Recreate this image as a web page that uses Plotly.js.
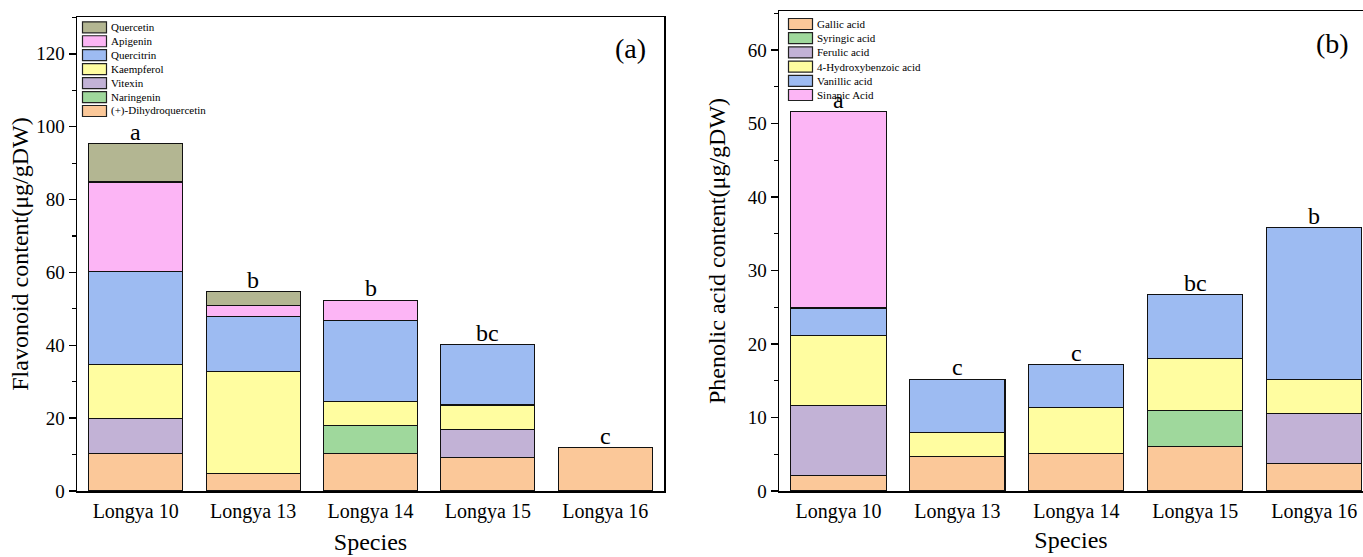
<!DOCTYPE html>
<html>
<head>
<meta charset="utf-8">
<script src="https://cdn.plot.ly/plotly-3.0.1.min.js"></script>
<style>html,body{margin:0;padding:0;overflow:hidden;background:#fff;}#chart{width:1363px;height:557px;}</style>
</head>
<body>
<div id="chart"></div>
<script>
// ---- data ----
const species = ['Longya 10', 'Longya 13', 'Longya 14', 'Longya 15', 'Longya 16'];

// Panel (a) flavonoids (µg/gDW), stacked bottom -> top
const flavNames = ['(+)-Dihydroquercetin', 'Naringenin', 'Vitexin', 'Kaempferol', 'Quercitrin', 'Apigenin', 'Quercetin'];
const dihydroquercetin = [10.2, 4.9, 10.4, 9.3, 11.9];
const naringenin = [null, null, 7.6, null, null];
const vitexin = [9.8, null, null, 7.5, null];
const kaempferol = [14.6, 27.8, 6.5, 6.8, null];
const quercitrin = [25.7, 15.3, 22.4, 16.5, null];
const apigenin = [24.5, 2.9, 5.4, null, null];
const quercetin = [10.5, 3.8, null, null, null];
const flavLetters = ['a', 'b', 'b', 'bc', 'c'];

// Panel (b) phenolic acids (µg/gDW), stacked bottom -> top
const phenNames = ['Gallic acid', 'Syringic acid', 'Ferulic acid', '4-Hydroxybenzoic acid', 'Vanillic acid', 'Sinapic Acid'];
const gallic = [2.1, 4.7, 5.1, 6.0, 3.8];
const syringic = [null, null, null, 5.0, null];
const ferulic = [9.5, null, null, null, 6.8];
const hydroxybenzoic = [9.5, 3.2, 6.2, 7.0, 4.6];
const vanillic = [3.8, 7.3, 5.9, 8.7, 20.6];
const sinapic = [26.7, null, null, null, null];
const phenLetters = ['a', 'c', 'c', 'bc', 'b'];

const yTicksA = [0, 20, 40, 60, 80, 100, 120];
const yTicksB = [0, 10, 20, 30, 40, 50, 60];

// ---- styling ----
const W = 1363, H = 557;
const FONT = '"Liberation Serif", "Times New Roman", Times, serif';
const flavColors = ['#FBC899', '#9FD89C', '#C2B2D6', '#FFFDA0', '#9DBBF2', '#FCB5F5', '#B3B692'];
const phenColors = ['#FBC899', '#9FD89C', '#C2B2D6', '#FFFDA0', '#9DBBF2', '#FCB5F5'];

const flavSeries = [dihydroquercetin, naringenin, vitexin, kaempferol, quercitrin, apigenin, quercetin];
const phenSeries = [gallic, syringic, ferulic, hydroxybenzoic, vanillic, sinapic];

const traces = [];
flavSeries.forEach((vals, i) => traces.push({
  type: 'bar', x: species, y: vals, name: flavNames[i], xaxis: 'x', yaxis: 'y',
  marker: {color: flavColors[i], line: {color: '#111', width: 1.1}}, showlegend: false,
  hovertemplate: '%{x}: %{y}<extra>' + flavNames[i] + '</extra>'
}));
phenSeries.forEach((vals, i) => traces.push({
  type: 'bar', x: species, y: vals, name: phenNames[i], xaxis: 'x2', yaxis: 'y2',
  marker: {color: phenColors[i], line: {color: '#111', width: 1.1}}, showlegend: false,
  hovertemplate: '%{x}: %{y}<extra>' + phenNames[i] + '</extra>'
}));

function totals(series) {
  return species.map((_, j) => series.reduce((s, arr) => s + (arr[j] || 0), 0));
}
const flavTotals = totals(flavSeries);
const phenTotals = totals(phenSeries);

const px = v => v / W;
const py = v => 1 - v / H;

const annotations = [];
const shapes = [];

flavLetters.forEach((t, j) => annotations.push({
  xref: 'x', yref: 'y', x: species[j], y: flavTotals[j], text: t, showarrow: false,
  yanchor: 'bottom', yshift: -3, font: {family: FONT, size: 24, color: '#000'}
}));
phenLetters.forEach((t, j) => annotations.push({
  xref: 'x2', yref: 'y2', x: species[j], y: phenTotals[j], text: t, showarrow: false,
  yanchor: 'bottom', yshift: -3, font: {family: FONT, size: 24, color: '#000'}
}));

// panel labels
annotations.push({xref: 'paper', yref: 'paper', x: px(630), y: py(48), text: '(a)', showarrow: false,
  xanchor: 'center', yanchor: 'middle', font: {family: FONT, size: 28, color: '#000'}});
annotations.push({xref: 'paper', yref: 'paper', x: px(1332), y: py(43), text: '(b)', showarrow: false,
  xanchor: 'center', yanchor: 'middle', font: {family: FONT, size: 28, color: '#000'}});

// legends (compact, Origin style)
function addLegend(names, colors, x0, yTop, step, reversed) {
  const order = names.map((_, i) => i);
  if (reversed) order.reverse();
  order.forEach((idx, k) => {
    const yc = yTop + k * step;
    shapes.push({type: 'rect', xref: 'paper', yref: 'paper', x0: px(x0), x1: px(x0 + 24),
      y0: py(yc - 5.5), y1: py(yc + 5.5), fillcolor: colors[idx], line: {color: '#222', width: 1.2}});
    annotations.push({xref: 'paper', yref: 'paper', x: px(x0 + 26), y: py(yc), text: names[idx],
      showarrow: false, xanchor: 'left', yanchor: 'middle', font: {family: FONT, size: 11, color: '#000'}});
  });
}
addLegend(flavNames, flavColors, 82.5, 27.3, 13.95, true);
addLegend(phenNames, phenColors, 788.5, 24, 14.2, false);

const axCommon = {
  showline: true, linecolor: '#000', linewidth: 1.5, showgrid: false, zeroline: false,
  tickfont: {family: FONT, size: 19, color: '#000'}
};

const layout = {
  width: W, height: H,
  margin: {l: 0, r: 0, t: 0, b: 0},
  paper_bgcolor: '#fff', plot_bgcolor: '#fff',
  barmode: 'stack', bargap: 0.2,
  showlegend: false,
  font: {family: FONT, color: '#000'},
  xaxis: Object.assign({}, axCommon, {
    domain: [px(77), px(664)], anchor: 'y', type: 'category', range: [-0.5, 4.5], mirror: true,
    ticks: '', tickfont: {family: FONT, size: 20, color: '#000'}, ticklabelstandoff: 1,
    title: {text: 'Species', font: {family: FONT, size: 24, color: '#000'}, standoff: 11}
  }),
  yaxis: Object.assign({}, axCommon, {
    domain: [1 - 491 / H, 1 - 17 / H], anchor: 'x', range: [0, 130.1], mirror: true,
    tickvals: yTicksA, ticks: 'outside', ticklen: 7, tickwidth: 1.5, tickcolor: '#000',
    minor: {dtick: 10, ticks: 'outside', ticklen: 4, tickwidth: 1.2, tickcolor: '#000'},
    title: {text: 'Flavonoid content(μg/gDW)', font: {family: FONT, size: 24, color: '#000'}, standoff: 1}
  }),
  xaxis2: Object.assign({}, axCommon, {
    domain: [px(779), 1], anchor: 'y2', type: 'category', range: [-0.5, 4.41], mirror: true,
    ticks: '', tickfont: {family: FONT, size: 20, color: '#000'}, ticklabelstandoff: 1,
    title: {text: 'Species', font: {family: FONT, size: 24, color: '#000'}, standoff: 9}
  }),
  yaxis2: Object.assign({}, axCommon, {
    domain: [1 - 491 / H, 1 - 11 / H], anchor: 'x2', range: [0, 65.3], mirror: false,
    tickvals: yTicksB, ticks: 'outside', ticklen: 7, tickwidth: 1.5, tickcolor: '#000',
    minor: {dtick: 5, ticks: 'outside', ticklen: 4, tickwidth: 1.2, tickcolor: '#000'},
    title: {text: 'Phenolic acid content(μg/gDW)', font: {family: FONT, size: 24, color: '#000'}, standoff: 15}
  }),
  annotations: annotations,
  shapes: shapes
};

Plotly.newPlot('chart', traces, layout, {displayModeBar: false, staticPlot: true});
</script>
</body>
</html>
